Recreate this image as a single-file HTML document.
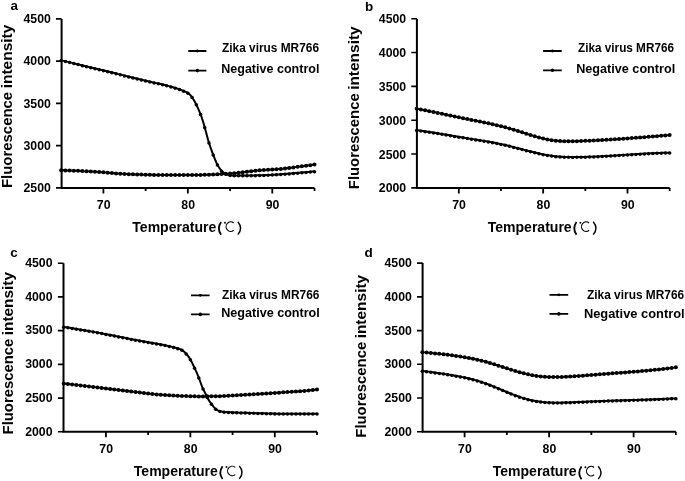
<!DOCTYPE html><html><head><meta charset="utf-8"><style>html,body{margin:0;padding:0;background:#fff;}svg{display:block;filter:blur(0.35px)}</style></head><body>

<svg width="685" height="481" viewBox="0 0 685 481">
<style>
text{font-family:"Liberation Sans", sans-serif;fill:#000}
.tl{font-size:12.3px;font-weight:bold}
.let{font-size:13.5px;font-weight:bold}
.yt{font-size:14px;font-weight:bold}
.xt{font-size:14px;font-weight:bold}
.cc{font-size:13px;font-weight:normal}
.lg{font-size:12px;font-weight:bold}
</style>
<rect width="685" height="481" fill="#fff"/>
<g><path d="M61.6 18.9V187.9H314.52" fill="none" stroke="#000" stroke-width="2"/><path d="M56 18.9H61.6M56 61.15H61.6M56 103.4H61.6M56 145.65H61.6M56 187.9H61.6" stroke="#000" stroke-width="1.6"/><path d="M103.4 187.9V193.4M187.85 187.9V193.4M272.3 187.9V193.4M145.62 187.9V191.1M230.08 187.9V191.1M314.52 187.9V191.1" stroke="#000" stroke-width="1.8"/><text x="50.9" y="23.2" text-anchor="end" class="tl">4500</text><text x="50.9" y="65.45" text-anchor="end" class="tl">4000</text><text x="50.9" y="107.7" text-anchor="end" class="tl">3500</text><text x="50.9" y="149.95" text-anchor="end" class="tl">3000</text><text x="50.9" y="192.2" text-anchor="end" class="tl">2500</text><text x="103.7" y="209" text-anchor="middle" class="tl">70</text><text x="188.15" y="209" text-anchor="middle" class="tl">80</text><text x="272.6" y="209" text-anchor="middle" class="tl">90</text><text x="10.5" y="10.1" class="let">a</text><text transform="translate(12.3 188) rotate(-90)" x="0" y="0" class="yt" textLength="96.16" lengthAdjust="spacingAndGlyphs">Fluorescence</text><text transform="translate(12.3 88.37) rotate(-90)" x="0" y="0" class="yt" textLength="63.77" lengthAdjust="spacingAndGlyphs">intensity</text><text x="132.3" y="231.8" class="xt" textLength="84" lengthAdjust="spacingAndGlyphs">Temperature</text><path d="M221.1 221.9Q216.5 228.35 221.1 234.8" fill="none" stroke="#000" stroke-width="1.8"/><path d="M237.8 221.7Q243.4 228.15 237.8 234.6" fill="none" stroke="#000" stroke-width="1.4"/><circle cx="225" cy="222.7" r="0.95"/><path d="M233.66 223.01A4.6 4.75 0 1 0 233.66 230.29" fill="none" stroke="#000" stroke-width="1.1"/><path d="M188.3 51H206.4M188.3 70.6H206.4" stroke="#000" stroke-width="1.8"/><circle cx="197.35" cy="51" r="1.4"/><circle cx="197.35" cy="70.6" r="1.8"/><text x="222" y="52" class="lg" textLength="97" lengthAdjust="spacingAndGlyphs">Zika virus MR766</text><text x="221.2" y="72.7" class="lg" textLength="98.3" lengthAdjust="spacingAndGlyphs">Negative control</text><path d="M61.6 60.4 62.65 60.65 63.71 60.9 64.76 61.15 65.82 61.4 66.87 61.65 67.92 61.9 68.98 62.15 70.03 62.4 71.08 62.65 72.14 62.9 73.19 63.16 74.25 63.41 75.3 63.66 76.35 63.91 77.41 64.16 78.46 64.41 79.52 64.67 80.57 64.92 81.62 65.17 82.68 65.42 83.73 65.68 84.78 65.93 85.84 66.18 86.89 66.44 87.95 66.69 89 66.94 90.05 67.2 91.11 67.45 92.16 67.71 93.22 67.96 94.27 68.21 95.32 68.47 96.38 68.72 97.43 68.98 98.48 69.23 99.54 69.49 100.59 69.74 101.65 70 102.7 70.25 103.75 70.51 104.81 70.77 105.86 71.02 106.92 71.28 107.97 71.54 109.02 71.79 110.08 72.05 111.13 72.31 112.19 72.56 113.24 72.82 114.29 73.08 115.35 73.33 116.4 73.59 117.45 73.85 118.51 74.11 119.56 74.37 120.62 74.62 121.67 74.88 122.72 75.14 123.78 75.4 124.83 75.66 125.89 75.92 126.94 76.18 127.99 76.44 129.05 76.7 130.1 76.96 131.15 77.22 132.21 77.48 133.26 77.74 134.32 78 135.37 78.26 136.42 78.52 137.48 78.78 138.53 79.04 139.59 79.3 140.64 79.56 141.69 79.81 142.75 80.06 143.8 80.31 144.85 80.56 145.91 80.8 146.96 81.04 148.02 81.28 149.07 81.51 150.12 81.74 151.18 81.98 152.23 82.21 153.29 82.44 154.34 82.67 155.39 82.91 156.45 83.14 157.5 83.37 158.55 83.61 159.61 83.85 160.66 84.09 161.72 84.33 162.77 84.58 163.82 84.83 164.88 85.08 165.93 85.34 166.99 85.61 168.04 85.87 169.09 86.15 170.15 86.43 171.2 86.71 172.25 87.01 173.31 87.31 174.36 87.61 175.42 87.93 176.47 88.25 177.52 88.58 178.58 88.93 179.63 89.28 180.69 89.65 181.74 90.09 182.79 90.56 183.85 91.04 184.9 91.49 185.95 91.9 187.01 92.36 188.06 92.97 189.12 93.84 190.17 94.94 191.22 96.18 192.28 97.57 193.33 99.19 194.39 100.99 195.44 102.9 196.49 104.97 197.55 107.27 198.6 109.67 199.65 112.09 200.71 114.64 201.76 117.52 202.82 120.83 203.87 124.38 204.92 128.07 205.98 132.04 207.03 136.06 208.09 139.89 209.14 143.3 210.19 146.47 211.25 149.47 212.3 152.34 213.35 155.1 214.41 157.85 215.46 160.5 216.52 162.93 217.57 165 218.62 166.82 219.68 168.45 220.73 169.86 221.79 171.02 222.84 172.01 223.89 172.83 224.95 173.51 226 174.09 227.06 174.52 228.11 174.86 229.16 175.15 230.22 175.3 231.27 175.34 232.32 175.38 233.38 175.41 234.43 175.44 235.49 175.46 236.54 175.48 237.59 175.49 238.65 175.5 239.7 175.5 240.76 175.5 241.81 175.5 242.86 175.49 243.92 175.49 244.97 175.48 246.02 175.48 247.08 175.47 248.13 175.46 249.19 175.45 250.24 175.44 251.29 175.43 252.35 175.41 253.4 175.4 254.46 175.39 255.51 175.37 256.56 175.35 257.62 175.34 258.67 175.32 259.72 175.3 260.78 175.29 261.83 175.26 262.89 175.23 263.94 175.2 264.99 175.16 266.05 175.11 267.1 175.06 268.16 175.01 269.21 174.96 270.26 174.9 271.32 174.84 272.37 174.78 273.42 174.71 274.48 174.65 275.53 174.58 276.59 174.52 277.64 174.45 278.69 174.38 279.75 174.32 280.8 174.25 281.86 174.18 282.91 174.1 283.96 174.02 285.02 173.94 286.07 173.86 287.12 173.77 288.18 173.68 289.23 173.59 290.29 173.5 291.34 173.41 292.39 173.32 293.45 173.23 294.5 173.14 295.56 173.05 296.61 172.97 297.66 172.88 298.72 172.79 299.77 172.7 300.82 172.61 301.88 172.52 302.93 172.43 303.99 172.34 305.04 172.25 306.09 172.16 307.15 172.06 308.2 171.97 309.26 171.88 310.31 171.78 311.36 171.69 312.42 171.6 313.47 171.5 314.52 171.41" fill="none" stroke="#000" stroke-width="2" stroke-linejoin="round"/><g><circle cx="61.18" cy="60.7" r="1.75"/><circle cx="65.4" cy="61.6" r="1.75"/><circle cx="69.62" cy="62.6" r="1.75"/><circle cx="73.84" cy="63.61" r="1.75"/><circle cx="78.06" cy="64.62" r="1.75"/><circle cx="82.29" cy="65.63" r="1.75"/><circle cx="86.51" cy="66.64" r="1.75"/><circle cx="90.73" cy="67.66" r="1.75"/><circle cx="94.96" cy="68.68" r="1.75"/><circle cx="99.18" cy="69.7" r="1.75"/><circle cx="103.4" cy="70.72" r="1.75"/><circle cx="107.62" cy="71.75" r="1.75"/><circle cx="111.84" cy="72.78" r="1.75"/><circle cx="116.07" cy="73.81" r="1.75"/><circle cx="120.29" cy="74.84" r="1.75"/><circle cx="124.51" cy="75.88" r="1.75"/><circle cx="128.74" cy="76.92" r="1.75"/><circle cx="132.96" cy="77.96" r="1.75"/><circle cx="137.18" cy="79" r="1.75"/><circle cx="141.4" cy="80.04" r="1.75"/><circle cx="145.62" cy="81.03" r="1.75"/><circle cx="149.85" cy="81.98" r="1.75"/><circle cx="154.07" cy="82.91" r="1.75"/><circle cx="158.29" cy="83.85" r="1.75"/><circle cx="162.52" cy="84.82" r="1.75"/><circle cx="166.74" cy="85.84" r="1.75"/><circle cx="170.96" cy="86.95" r="1.75"/><circle cx="175.18" cy="88.16" r="1.75"/><circle cx="179.41" cy="89.5" r="1.75"/><circle cx="183.63" cy="91.25" r="1.75"/><circle cx="187.85" cy="93.13" r="1.75"/><circle cx="192.07" cy="97.58" r="1.75"/><circle cx="196.3" cy="104.86" r="1.75"/><circle cx="200.52" cy="114.46" r="1.75"/><circle cx="204.74" cy="127.7" r="1.75"/><circle cx="208.96" cy="143.05" r="1.75"/><circle cx="213.19" cy="154.96" r="1.75"/><circle cx="217.41" cy="165" r="1.75"/><circle cx="221.63" cy="171.16" r="1.75"/><circle cx="225.85" cy="174.31" r="1.75"/><circle cx="230.08" cy="175.59" r="1.75"/><circle cx="234.3" cy="175.73" r="1.75"/><circle cx="238.52" cy="175.8" r="1.75"/><circle cx="242.74" cy="175.8" r="1.75"/><circle cx="246.97" cy="175.77" r="1.75"/><circle cx="251.19" cy="175.73" r="1.75"/><circle cx="255.41" cy="175.67" r="1.75"/><circle cx="259.63" cy="175.61" r="1.75"/><circle cx="263.86" cy="175.5" r="1.75"/><circle cx="268.08" cy="175.32" r="1.75"/><circle cx="272.3" cy="175.08" r="1.75"/><circle cx="276.52" cy="174.82" r="1.75"/><circle cx="280.75" cy="174.55" r="1.75"/><circle cx="284.97" cy="174.25" r="1.75"/><circle cx="289.19" cy="173.9" r="1.75"/><circle cx="293.41" cy="173.53" r="1.75"/><circle cx="297.63" cy="173.18" r="1.75"/><circle cx="301.86" cy="172.82" r="1.75"/><circle cx="306.08" cy="172.46" r="1.75"/><circle cx="310.3" cy="172.09" r="1.75"/><circle cx="314.52" cy="171.71" r="1.75"/></g><path d="M61.6 170.3 62.65 170.32 63.71 170.35 64.76 170.38 65.82 170.41 66.87 170.44 67.92 170.47 68.98 170.51 70.03 170.54 71.08 170.58 72.14 170.62 73.19 170.66 74.25 170.7 75.3 170.75 76.35 170.79 77.41 170.84 78.46 170.88 79.52 170.93 80.57 170.98 81.62 171.03 82.68 171.08 83.73 171.14 84.78 171.19 85.84 171.25 86.89 171.3 87.95 171.36 89 171.41 90.05 171.47 91.11 171.53 92.16 171.59 93.22 171.65 94.27 171.71 95.32 171.77 96.38 171.83 97.43 171.89 98.48 171.97 99.54 172.04 100.59 172.12 101.65 172.21 102.7 172.29 103.75 172.38 104.81 172.47 105.86 172.56 106.92 172.66 107.97 172.75 109.02 172.84 110.08 172.93 111.13 173.02 112.19 173.1 113.24 173.18 114.29 173.26 115.35 173.34 116.4 173.41 117.45 173.47 118.51 173.54 119.56 173.61 120.62 173.68 121.67 173.75 122.72 173.82 123.78 173.88 124.83 173.95 125.89 174.01 126.94 174.07 127.99 174.13 129.05 174.19 130.1 174.24 131.15 174.29 132.21 174.34 133.26 174.39 134.32 174.43 135.37 174.46 136.42 174.49 137.48 174.52 138.53 174.55 139.59 174.57 140.64 174.6 141.69 174.63 142.75 174.65 143.8 174.68 144.85 174.7 145.91 174.73 146.96 174.75 148.02 174.77 149.07 174.79 150.12 174.81 151.18 174.83 152.23 174.85 153.29 174.87 154.34 174.89 155.39 174.9 156.45 174.92 157.5 174.93 158.55 174.95 159.61 174.96 160.66 174.97 161.72 174.98 162.77 174.98 163.82 174.99 164.88 175 165.93 175 166.99 175 168.04 175 169.09 175 170.15 175 171.2 175 172.25 175 173.31 175 174.36 175 175.42 175 176.47 175 177.52 175 178.58 175 179.63 175 180.69 175 181.74 175 182.79 175 183.85 175 184.9 175 185.95 175 187.01 175 188.06 175 189.12 175 190.17 175 191.22 175 192.28 175 193.33 175 194.39 175 195.44 175 196.49 174.99 197.55 174.98 198.6 174.97 199.65 174.95 200.71 174.93 201.76 174.9 202.82 174.87 203.87 174.84 204.92 174.8 205.98 174.77 207.03 174.73 208.09 174.68 209.14 174.64 210.19 174.6 211.25 174.56 212.3 174.51 213.35 174.47 214.41 174.42 215.46 174.38 216.52 174.34 217.57 174.29 218.62 174.24 219.68 174.18 220.73 174.12 221.79 174.06 222.84 174 223.89 173.94 224.95 173.87 226 173.8 227.06 173.73 228.11 173.66 229.16 173.58 230.22 173.51 231.27 173.43 232.32 173.34 233.38 173.24 234.43 173.14 235.49 173.04 236.54 172.93 237.59 172.82 238.65 172.7 239.7 172.58 240.76 172.46 241.81 172.33 242.86 172.2 243.92 172.07 244.97 171.94 246.02 171.81 247.08 171.68 248.13 171.56 249.19 171.43 250.24 171.3 251.29 171.18 252.35 171.06 253.4 170.94 254.46 170.82 255.51 170.71 256.56 170.61 257.62 170.51 258.67 170.41 259.72 170.32 260.78 170.24 261.83 170.16 262.89 170.09 263.94 170.02 264.99 169.95 266.05 169.89 267.1 169.83 268.16 169.77 269.21 169.71 270.26 169.65 271.32 169.59 272.37 169.53 273.42 169.47 274.48 169.4 275.53 169.33 276.59 169.26 277.64 169.19 278.69 169.11 279.75 169.02 280.8 168.93 281.86 168.83 282.91 168.72 283.96 168.6 285.02 168.48 286.07 168.36 287.12 168.23 288.18 168.09 289.23 167.96 290.29 167.82 291.34 167.68 292.39 167.54 293.45 167.4 294.5 167.26 295.56 167.13 296.61 166.99 297.66 166.86 298.72 166.72 299.77 166.58 300.82 166.44 301.88 166.3 302.93 166.15 303.99 166.01 305.04 165.87 306.09 165.72 307.15 165.57 308.2 165.42 309.26 165.28 310.31 165.12 311.36 164.97 312.42 164.82 313.47 164.67 314.52 164.51" fill="none" stroke="#000" stroke-width="2" stroke-linejoin="round"/><g><circle cx="61.18" cy="170.3" r="2.0"/><circle cx="65.4" cy="170.4" r="2.0"/><circle cx="69.62" cy="170.53" r="2.0"/><circle cx="73.84" cy="170.69" r="2.0"/><circle cx="78.06" cy="170.87" r="2.0"/><circle cx="82.29" cy="171.07" r="2.0"/><circle cx="86.51" cy="171.28" r="2.0"/><circle cx="90.73" cy="171.51" r="2.0"/><circle cx="94.96" cy="171.75" r="2.0"/><circle cx="99.18" cy="172.02" r="2.0"/><circle cx="103.4" cy="172.35" r="2.0"/><circle cx="107.62" cy="172.72" r="2.0"/><circle cx="111.84" cy="173.07" r="2.0"/><circle cx="116.07" cy="173.39" r="2.0"/><circle cx="120.29" cy="173.66" r="2.0"/><circle cx="124.51" cy="173.93" r="2.0"/><circle cx="128.74" cy="174.17" r="2.0"/><circle cx="132.96" cy="174.37" r="2.0"/><circle cx="137.18" cy="174.51" r="2.0"/><circle cx="141.4" cy="174.62" r="2.0"/><circle cx="145.62" cy="174.72" r="2.0"/><circle cx="149.85" cy="174.81" r="2.0"/><circle cx="154.07" cy="174.88" r="2.0"/><circle cx="158.29" cy="174.94" r="2.0"/><circle cx="162.52" cy="174.98" r="2.0"/><circle cx="166.74" cy="175" r="2.0"/><circle cx="170.96" cy="175" r="2.0"/><circle cx="175.18" cy="175" r="2.0"/><circle cx="179.41" cy="175" r="2.0"/><circle cx="183.63" cy="175" r="2.0"/><circle cx="187.85" cy="175" r="2.0"/><circle cx="192.07" cy="175" r="2.0"/><circle cx="196.3" cy="175" r="2.0"/><circle cx="200.52" cy="174.93" r="2.0"/><circle cx="204.74" cy="174.81" r="2.0"/><circle cx="208.96" cy="174.65" r="2.0"/><circle cx="213.19" cy="174.47" r="2.0"/><circle cx="217.41" cy="174.29" r="2.0"/><circle cx="221.63" cy="174.07" r="2.0"/><circle cx="225.85" cy="173.81" r="2.0"/><circle cx="230.08" cy="173.52" r="2.0"/><circle cx="234.3" cy="173.16" r="2.0"/><circle cx="238.52" cy="172.71" r="2.0"/><circle cx="242.74" cy="172.22" r="2.0"/><circle cx="246.97" cy="171.7" r="2.0"/><circle cx="251.19" cy="171.19" r="2.0"/><circle cx="255.41" cy="170.72" r="2.0"/><circle cx="259.63" cy="170.33" r="2.0"/><circle cx="263.86" cy="170.02" r="2.0"/><circle cx="268.08" cy="169.77" r="2.0"/><circle cx="272.3" cy="169.53" r="2.0"/><circle cx="276.52" cy="169.27" r="2.0"/><circle cx="280.75" cy="168.93" r="2.0"/><circle cx="284.97" cy="168.49" r="2.0"/><circle cx="289.19" cy="167.96" r="2.0"/><circle cx="293.41" cy="167.41" r="2.0"/><circle cx="297.63" cy="166.86" r="2.0"/><circle cx="301.86" cy="166.3" r="2.0"/><circle cx="306.08" cy="165.72" r="2.0"/><circle cx="310.3" cy="165.13" r="2.0"/><circle cx="314.52" cy="164.51" r="2.0"/></g></g>
<g><path d="M416.9 18.7V187.9H669.67" fill="none" stroke="#000" stroke-width="2"/><path d="M411.3 18.7H416.9M411.3 52.54H416.9M411.3 86.38H416.9M411.3 120.22H416.9M411.3 154.06H416.9M411.3 187.9H416.9" stroke="#000" stroke-width="1.6"/><path d="M458.8 187.9V193.4M543.15 187.9V193.4M627.5 187.9V193.4M500.98 187.9V191.1M585.33 187.9V191.1M669.67 187.9V191.1" stroke="#000" stroke-width="1.8"/><text x="406.2" y="23.2" text-anchor="end" class="tl">4500</text><text x="406.2" y="57.04" text-anchor="end" class="tl">4000</text><text x="406.2" y="90.88" text-anchor="end" class="tl">3500</text><text x="406.2" y="124.72" text-anchor="end" class="tl">3000</text><text x="406.2" y="158.56" text-anchor="end" class="tl">2500</text><text x="406.2" y="192.4" text-anchor="end" class="tl">2000</text><text x="459.1" y="209.2" text-anchor="middle" class="tl">70</text><text x="543.45" y="209.2" text-anchor="middle" class="tl">80</text><text x="627.8" y="209.2" text-anchor="middle" class="tl">90</text><text x="364.9" y="10.9" class="let">b</text><text transform="translate(358.5 189.2) rotate(-90)" x="0" y="0" class="yt" textLength="95.87" lengthAdjust="spacingAndGlyphs">Fluorescence</text><text transform="translate(358.5 89.87) rotate(-90)" x="0" y="0" class="yt" textLength="63.57" lengthAdjust="spacingAndGlyphs">intensity</text><text x="487.7" y="231.8" class="xt" textLength="84" lengthAdjust="spacingAndGlyphs">Temperature</text><path d="M576.5 221.9Q571.9 228.35 576.5 234.8" fill="none" stroke="#000" stroke-width="1.8"/><path d="M593.2 221.7Q598.8 228.15 593.2 234.6" fill="none" stroke="#000" stroke-width="1.4"/><circle cx="580.4" cy="222.7" r="0.95"/><path d="M589.06 223.01A4.6 4.75 0 1 0 589.06 230.29" fill="none" stroke="#000" stroke-width="1.1"/><path d="M543.1 51H561.7M543.1 70.3H561.7" stroke="#000" stroke-width="1.8"/><circle cx="552.4" cy="51" r="1.4"/><circle cx="552.4" cy="70.3" r="1.8"/><text x="578" y="52" class="lg" textLength="96" lengthAdjust="spacingAndGlyphs">Zika virus MR766</text><text x="576.2" y="73" class="lg" textLength="99" lengthAdjust="spacingAndGlyphs">Negative control</text><path d="M416.9 108.77 417.95 108.96 419.01 109.16 420.06 109.35 421.11 109.55 422.17 109.75 423.22 109.95 424.27 110.16 425.33 110.36 426.38 110.57 427.43 110.78 428.49 110.99 429.54 111.2 430.59 111.41 431.65 111.63 432.7 111.84 433.75 112.06 434.8 112.28 435.86 112.5 436.91 112.72 437.96 112.94 439.02 113.16 440.07 113.38 441.12 113.6 442.18 113.83 443.23 114.05 444.28 114.27 445.34 114.5 446.39 114.72 447.44 114.95 448.5 115.17 449.55 115.4 450.6 115.62 451.66 115.85 452.71 116.07 453.76 116.29 454.82 116.52 455.87 116.74 456.92 116.96 457.98 117.18 459.03 117.41 460.08 117.63 461.14 117.85 462.19 118.06 463.24 118.28 464.3 118.5 465.35 118.71 466.4 118.93 467.45 119.14 468.51 119.35 469.56 119.56 470.61 119.77 471.67 119.98 472.72 120.18 473.77 120.39 474.83 120.59 475.88 120.8 476.93 121 477.99 121.21 479.04 121.41 480.09 121.62 481.15 121.82 482.2 122.03 483.25 122.24 484.31 122.45 485.36 122.66 486.41 122.87 487.47 123.09 488.52 123.31 489.57 123.53 490.63 123.75 491.68 123.98 492.73 124.21 493.79 124.45 494.84 124.69 495.89 124.93 496.95 125.18 498 125.43 499.05 125.69 500.11 125.95 501.16 126.22 502.21 126.49 503.26 126.76 504.32 127.04 505.37 127.32 506.42 127.61 507.48 127.9 508.53 128.19 509.58 128.49 510.64 128.8 511.69 129.1 512.74 129.41 513.8 129.73 514.85 130.05 515.9 130.37 516.96 130.69 518.01 131.02 519.06 131.35 520.12 131.69 521.17 132.02 522.22 132.36 523.28 132.69 524.33 133.03 525.38 133.36 526.44 133.7 527.49 134.03 528.54 134.36 529.6 134.69 530.65 135.01 531.7 135.33 532.76 135.65 533.81 135.97 534.86 136.27 535.91 136.58 536.97 136.88 538.02 137.17 539.07 137.45 540.13 137.73 541.18 138 542.23 138.26 543.29 138.52 544.34 138.76 545.39 139 546.45 139.22 547.5 139.44 548.55 139.64 549.61 139.84 550.66 140.02 551.71 140.19 552.77 140.35 553.82 140.49 554.87 140.62 555.93 140.74 556.98 140.84 558.03 140.94 559.09 141.01 560.14 141.08 561.19 141.14 562.25 141.18 563.3 141.22 564.35 141.25 565.41 141.27 566.46 141.28 567.51 141.29 568.56 141.29 569.62 141.28 570.67 141.27 571.72 141.26 572.78 141.24 573.83 141.21 574.88 141.19 575.94 141.17 576.99 141.14 578.04 141.11 579.1 141.08 580.15 141.05 581.2 141.01 582.26 140.98 583.31 140.94 584.36 140.91 585.42 140.87 586.47 140.83 587.52 140.79 588.58 140.74 589.63 140.7 590.68 140.65 591.74 140.61 592.79 140.56 593.84 140.51 594.9 140.46 595.95 140.41 597 140.36 598.06 140.3 599.11 140.25 600.16 140.19 601.22 140.14 602.27 140.08 603.32 140.02 604.37 139.96 605.43 139.9 606.48 139.84 607.53 139.77 608.59 139.71 609.64 139.65 610.69 139.58 611.75 139.51 612.8 139.45 613.85 139.38 614.91 139.31 615.96 139.24 617.01 139.17 618.07 139.1 619.12 139.03 620.17 138.95 621.23 138.88 622.28 138.81 623.33 138.73 624.39 138.66 625.44 138.58 626.49 138.5 627.55 138.43 628.6 138.35 629.65 138.27 630.71 138.19 631.76 138.11 632.81 138.03 633.87 137.95 634.92 137.87 635.97 137.79 637.02 137.71 638.08 137.63 639.13 137.55 640.18 137.47 641.24 137.38 642.29 137.3 643.34 137.22 644.4 137.14 645.45 137.05 646.5 136.97 647.56 136.88 648.61 136.8 649.66 136.72 650.72 136.63 651.77 136.55 652.82 136.46 653.88 136.38 654.93 136.29 655.98 136.21 657.04 136.12 658.09 136.04 659.14 135.96 660.2 135.87 661.25 135.79 662.3 135.7 663.36 135.62 664.41 135.53 665.46 135.45 666.52 135.37 667.57 135.28 668.62 135.2 669.67 135.12" fill="none" stroke="#000" stroke-width="2" stroke-linejoin="round"/><g><circle cx="416.62" cy="108.77" r="2.0"/><circle cx="420.84" cy="109.5" r="2.0"/><circle cx="425.06" cy="110.31" r="2.0"/><circle cx="429.28" cy="111.15" r="2.0"/><circle cx="433.5" cy="112.01" r="2.0"/><circle cx="437.71" cy="112.88" r="2.0"/><circle cx="441.93" cy="113.77" r="2.0"/><circle cx="446.15" cy="114.67" r="2.0"/><circle cx="450.37" cy="115.57" r="2.0"/><circle cx="454.58" cy="116.47" r="2.0"/><circle cx="458.8" cy="117.36" r="2.0"/><circle cx="463.02" cy="118.24" r="2.0"/><circle cx="467.24" cy="119.1" r="2.0"/><circle cx="471.45" cy="119.94" r="2.0"/><circle cx="475.67" cy="120.76" r="2.0"/><circle cx="479.89" cy="121.58" r="2.0"/><circle cx="484.11" cy="122.41" r="2.0"/><circle cx="488.32" cy="123.27" r="2.0"/><circle cx="492.54" cy="124.17" r="2.0"/><circle cx="496.76" cy="125.14" r="2.0"/><circle cx="500.98" cy="126.17" r="2.0"/><circle cx="505.19" cy="127.27" r="2.0"/><circle cx="509.41" cy="128.44" r="2.0"/><circle cx="513.63" cy="129.68" r="2.0"/><circle cx="517.85" cy="130.97" r="2.0"/><circle cx="522.06" cy="132.31" r="2.0"/><circle cx="526.28" cy="133.65" r="2.0"/><circle cx="530.5" cy="134.97" r="2.0"/><circle cx="534.72" cy="136.23" r="2.0"/><circle cx="538.93" cy="137.41" r="2.0"/><circle cx="543.15" cy="138.48" r="2.0"/><circle cx="547.37" cy="139.41" r="2.0"/><circle cx="551.59" cy="140.17" r="2.0"/><circle cx="555.8" cy="140.73" r="2.0"/><circle cx="560.02" cy="141.07" r="2.0"/><circle cx="564.24" cy="141.25" r="2.0"/><circle cx="568.46" cy="141.29" r="2.0"/><circle cx="572.67" cy="141.24" r="2.0"/><circle cx="576.89" cy="141.14" r="2.0"/><circle cx="581.11" cy="141.02" r="2.0"/><circle cx="585.33" cy="140.87" r="2.0"/><circle cx="589.54" cy="140.7" r="2.0"/><circle cx="593.76" cy="140.51" r="2.0"/><circle cx="597.98" cy="140.31" r="2.0"/><circle cx="602.19" cy="140.08" r="2.0"/><circle cx="606.41" cy="139.84" r="2.0"/><circle cx="610.63" cy="139.58" r="2.0"/><circle cx="614.85" cy="139.31" r="2.0"/><circle cx="619.07" cy="139.03" r="2.0"/><circle cx="623.28" cy="138.74" r="2.0"/><circle cx="627.5" cy="138.43" r="2.0"/><circle cx="631.72" cy="138.12" r="2.0"/><circle cx="635.93" cy="137.8" r="2.0"/><circle cx="640.15" cy="137.47" r="2.0"/><circle cx="644.37" cy="137.14" r="2.0"/><circle cx="648.59" cy="136.8" r="2.0"/><circle cx="652.8" cy="136.46" r="2.0"/><circle cx="657.02" cy="136.13" r="2.0"/><circle cx="661.24" cy="135.79" r="2.0"/><circle cx="665.46" cy="135.45" r="2.0"/><circle cx="669.67" cy="135.12" r="2.0"/></g><path d="M416.9 130.22 417.95 130.35 419.01 130.49 420.06 130.64 421.11 130.78 422.17 130.93 423.22 131.08 424.27 131.23 425.33 131.38 426.38 131.54 427.43 131.7 428.49 131.85 429.54 132.01 430.59 132.18 431.65 132.34 432.7 132.51 433.75 132.67 434.8 132.84 435.86 133.01 436.91 133.18 437.96 133.35 439.02 133.52 440.07 133.7 441.12 133.87 442.18 134.05 443.23 134.22 444.28 134.4 445.34 134.57 446.39 134.75 447.44 134.93 448.5 135.11 449.55 135.29 450.6 135.46 451.66 135.64 452.71 135.82 453.76 136 454.82 136.18 455.87 136.36 456.92 136.54 457.98 136.71 459.03 136.89 460.08 137.07 461.14 137.24 462.19 137.42 463.24 137.6 464.3 137.77 465.35 137.94 466.4 138.12 467.45 138.29 468.51 138.46 469.56 138.63 470.61 138.79 471.67 138.96 472.72 139.13 473.77 139.29 474.83 139.46 475.88 139.62 476.93 139.79 477.99 139.95 479.04 140.12 480.09 140.28 481.15 140.45 482.2 140.62 483.25 140.79 484.31 140.96 485.36 141.13 486.41 141.31 487.47 141.49 488.52 141.67 489.57 141.85 490.63 142.04 491.68 142.23 492.73 142.42 493.79 142.62 494.84 142.82 495.89 143.03 496.95 143.24 498 143.46 499.05 143.68 500.11 143.9 501.16 144.13 502.21 144.36 503.26 144.59 504.32 144.83 505.37 145.07 506.42 145.32 507.48 145.57 508.53 145.82 509.58 146.07 510.64 146.33 511.69 146.59 512.74 146.85 513.8 147.12 514.85 147.39 515.9 147.66 516.96 147.94 518.01 148.21 519.06 148.49 520.12 148.77 521.17 149.04 522.22 149.32 523.28 149.6 524.33 149.88 525.38 150.16 526.44 150.43 527.49 150.71 528.54 150.98 529.6 151.25 530.65 151.52 531.7 151.78 532.76 152.04 533.81 152.3 534.86 152.55 535.91 152.8 536.97 153.05 538.02 153.29 539.07 153.52 540.13 153.75 541.18 153.98 542.23 154.19 543.29 154.41 544.34 154.61 545.39 154.81 546.45 155 547.5 155.18 548.55 155.36 549.61 155.53 550.66 155.69 551.71 155.84 552.77 155.98 553.82 156.11 554.87 156.23 555.93 156.34 556.98 156.45 558.03 156.54 559.09 156.62 560.14 156.7 561.19 156.77 562.25 156.83 563.3 156.88 564.35 156.92 565.41 156.96 566.46 156.99 567.51 157.02 568.56 157.04 569.62 157.06 570.67 157.07 571.72 157.08 572.78 157.08 573.83 157.08 574.88 157.08 575.94 157.07 576.99 157.07 578.04 157.05 579.1 157.04 580.15 157.03 581.2 157.01 582.26 156.99 583.31 156.96 584.36 156.94 585.42 156.91 586.47 156.88 587.52 156.85 588.58 156.82 589.63 156.78 590.68 156.75 591.74 156.71 592.79 156.67 593.84 156.63 594.9 156.58 595.95 156.54 597 156.49 598.06 156.44 599.11 156.39 600.16 156.34 601.22 156.29 602.27 156.23 603.32 156.18 604.37 156.12 605.43 156.07 606.48 156.01 607.53 155.95 608.59 155.89 609.64 155.83 610.69 155.77 611.75 155.7 612.8 155.64 613.85 155.58 614.91 155.51 615.96 155.45 617.01 155.38 618.07 155.31 619.12 155.25 620.17 155.18 621.23 155.11 622.28 155.05 623.33 154.98 624.39 154.91 625.44 154.84 626.49 154.78 627.55 154.71 628.6 154.64 629.65 154.57 630.71 154.51 631.76 154.44 632.81 154.37 633.87 154.31 634.92 154.24 635.97 154.18 637.02 154.11 638.08 154.05 639.13 153.99 640.18 153.92 641.24 153.86 642.29 153.8 643.34 153.74 644.4 153.68 645.45 153.62 646.5 153.57 647.56 153.51 648.61 153.46 649.66 153.4 650.72 153.35 651.77 153.3 652.82 153.25 653.88 153.2 654.93 153.15 655.98 153.11 657.04 153.07 658.09 153.02 659.14 152.98 660.2 152.95 661.25 152.91 662.3 152.87 663.36 152.84 664.41 152.81 665.46 152.78 666.52 152.76 667.57 152.73 668.62 152.71 669.67 152.69" fill="none" stroke="#000" stroke-width="2" stroke-linejoin="round"/><g><circle cx="416.62" cy="130.52" r="1.75"/><circle cx="420.84" cy="131.04" r="1.75"/><circle cx="425.06" cy="131.64" r="1.75"/><circle cx="429.28" cy="132.27" r="1.75"/><circle cx="433.5" cy="132.93" r="1.75"/><circle cx="437.71" cy="133.61" r="1.75"/><circle cx="441.93" cy="134.3" r="1.75"/><circle cx="446.15" cy="135.01" r="1.75"/><circle cx="450.37" cy="135.72" r="1.75"/><circle cx="454.58" cy="136.44" r="1.75"/><circle cx="458.8" cy="137.15" r="1.75"/><circle cx="463.02" cy="137.86" r="1.75"/><circle cx="467.24" cy="138.55" r="1.75"/><circle cx="471.45" cy="139.23" r="1.75"/><circle cx="475.67" cy="139.89" r="1.75"/><circle cx="479.89" cy="140.55" r="1.75"/><circle cx="484.11" cy="141.23" r="1.75"/><circle cx="488.32" cy="141.93" r="1.75"/><circle cx="492.54" cy="142.69" r="1.75"/><circle cx="496.76" cy="143.5" r="1.75"/><circle cx="500.98" cy="144.39" r="1.75"/><circle cx="505.19" cy="145.33" r="1.75"/><circle cx="509.41" cy="146.33" r="1.75"/><circle cx="513.63" cy="147.38" r="1.75"/><circle cx="517.85" cy="148.47" r="1.75"/><circle cx="522.06" cy="149.58" r="1.75"/><circle cx="526.28" cy="150.69" r="1.75"/><circle cx="530.5" cy="151.78" r="1.75"/><circle cx="534.72" cy="152.82" r="1.75"/><circle cx="538.93" cy="153.79" r="1.75"/><circle cx="543.15" cy="154.68" r="1.75"/><circle cx="547.37" cy="155.46" r="1.75"/><circle cx="551.59" cy="156.12" r="1.75"/><circle cx="555.8" cy="156.63" r="1.75"/><circle cx="560.02" cy="156.99" r="1.75"/><circle cx="564.24" cy="157.22" r="1.75"/><circle cx="568.46" cy="157.34" r="1.75"/><circle cx="572.67" cy="157.38" r="1.75"/><circle cx="576.89" cy="157.37" r="1.75"/><circle cx="581.11" cy="157.31" r="1.75"/><circle cx="585.33" cy="157.22" r="1.75"/><circle cx="589.54" cy="157.09" r="1.75"/><circle cx="593.76" cy="156.93" r="1.75"/><circle cx="597.98" cy="156.75" r="1.75"/><circle cx="602.19" cy="156.54" r="1.75"/><circle cx="606.41" cy="156.31" r="1.75"/><circle cx="610.63" cy="156.07" r="1.75"/><circle cx="614.85" cy="155.81" r="1.75"/><circle cx="619.07" cy="155.55" r="1.75"/><circle cx="623.28" cy="155.28" r="1.75"/><circle cx="627.5" cy="155.01" r="1.75"/><circle cx="631.72" cy="154.74" r="1.75"/><circle cx="635.93" cy="154.48" r="1.75"/><circle cx="640.15" cy="154.22" r="1.75"/><circle cx="644.37" cy="153.98" r="1.75"/><circle cx="648.59" cy="153.76" r="1.75"/><circle cx="652.8" cy="153.55" r="1.75"/><circle cx="657.02" cy="153.37" r="1.75"/><circle cx="661.24" cy="153.21" r="1.75"/><circle cx="665.46" cy="153.08" r="1.75"/><circle cx="669.67" cy="152.99" r="1.75"/></g></g>
<g><path d="M63.5 263.2V431.8H317.02" fill="none" stroke="#000" stroke-width="2"/><path d="M57.9 263.2H63.5M57.9 296.92H63.5M57.9 330.64H63.5M57.9 364.36H63.5M57.9 398.08H63.5M57.9 431.8H63.5" stroke="#000" stroke-width="1.6"/><path d="M105.9 431.8V437.3M190.35 431.8V437.3M274.8 431.8V437.3M148.12 431.8V435M232.58 431.8V435M317.02 431.8V435" stroke="#000" stroke-width="1.8"/><text x="52.5" y="266.9" text-anchor="end" class="tl">4500</text><text x="52.5" y="300.62" text-anchor="end" class="tl">4000</text><text x="52.5" y="334.34" text-anchor="end" class="tl">3500</text><text x="52.5" y="368.06" text-anchor="end" class="tl">3000</text><text x="52.5" y="401.78" text-anchor="end" class="tl">2500</text><text x="52.5" y="435.5" text-anchor="end" class="tl">2000</text><text x="106.2" y="453.1" text-anchor="middle" class="tl">70</text><text x="190.65" y="453.1" text-anchor="middle" class="tl">80</text><text x="275.1" y="453.1" text-anchor="middle" class="tl">90</text><text x="10.3" y="257.4" class="let">c</text><text transform="translate(12.5 434.4) rotate(-90)" x="0" y="0" class="yt" textLength="95.64" lengthAdjust="spacingAndGlyphs">Fluorescence</text><text transform="translate(12.5 335.32) rotate(-90)" x="0" y="0" class="yt" textLength="63.42" lengthAdjust="spacingAndGlyphs">intensity</text><text x="133.8" y="476.1" class="xt" textLength="84" lengthAdjust="spacingAndGlyphs">Temperature</text><path d="M222.6 466.2Q218 472.65 222.6 479.1" fill="none" stroke="#000" stroke-width="1.8"/><path d="M239.3 466Q244.9 472.45 239.3 478.9" fill="none" stroke="#000" stroke-width="1.4"/><circle cx="226.5" cy="467" r="0.95"/><path d="M235.16 467.31A4.6 4.75 0 1 0 235.16 474.59" fill="none" stroke="#000" stroke-width="1.1"/><path d="M191 295.3H209.6M191 314.4H209.6" stroke="#000" stroke-width="1.8"/><circle cx="200.3" cy="295.3" r="1.4"/><circle cx="200.3" cy="314.4" r="1.8"/><text x="222" y="298.6" class="lg" textLength="97.4" lengthAdjust="spacingAndGlyphs">Zika virus MR766</text><text x="221.2" y="317.2" class="lg" textLength="98.6" lengthAdjust="spacingAndGlyphs">Negative control</text><path d="M63.5 326.8 64.56 326.97 65.61 327.14 66.67 327.3 67.73 327.47 68.78 327.64 69.84 327.81 70.89 327.99 71.95 328.16 73.01 328.33 74.06 328.51 75.12 328.68 76.18 328.86 77.23 329.03 78.29 329.21 79.35 329.39 80.4 329.56 81.46 329.74 82.51 329.92 83.57 330.1 84.63 330.28 85.68 330.47 86.74 330.65 87.8 330.83 88.85 331.02 89.91 331.2 90.97 331.39 92.02 331.57 93.08 331.76 94.13 331.95 95.19 332.13 96.25 332.32 97.3 332.51 98.36 332.7 99.42 332.89 100.47 333.09 101.53 333.28 102.59 333.48 103.64 333.67 104.7 333.87 105.75 334.07 106.81 334.28 107.87 334.48 108.92 334.68 109.98 334.89 111.04 335.1 112.09 335.31 113.15 335.52 114.2 335.73 115.26 335.94 116.32 336.15 117.37 336.36 118.43 336.57 119.49 336.79 120.54 337 121.6 337.21 122.66 337.42 123.71 337.64 124.77 337.85 125.82 338.06 126.88 338.27 127.94 338.48 128.99 338.69 130.05 338.9 131.11 339.11 132.16 339.31 133.22 339.52 134.28 339.72 135.33 339.93 136.39 340.13 137.44 340.33 138.5 340.52 139.56 340.72 140.61 340.91 141.67 341.1 142.73 341.29 143.78 341.48 144.84 341.66 145.9 341.84 146.95 342.02 148.01 342.2 149.06 342.38 150.12 342.56 151.18 342.74 152.23 342.92 153.29 343.1 154.35 343.28 155.4 343.47 156.46 343.65 157.52 343.84 158.57 344.03 159.63 344.23 160.68 344.43 161.74 344.63 162.8 344.82 163.85 345.02 164.91 345.23 165.97 345.44 167.02 345.65 168.08 345.87 169.14 346.1 170.19 346.34 171.25 346.6 172.3 346.87 173.36 347.15 174.42 347.44 175.47 347.75 176.53 348.05 177.59 348.35 178.64 348.65 179.7 348.99 180.76 349.4 181.81 349.92 182.87 350.63 183.92 351.49 184.98 352.47 186.04 353.53 187.09 354.7 188.15 356.08 189.21 357.62 190.26 359.3 191.32 361.22 192.38 363.33 193.43 365.55 194.49 367.8 195.54 370.08 196.6 372.43 197.66 374.88 198.71 377.43 199.77 380.25 200.83 383.26 201.88 386.13 202.94 388.61 204 390.8 205.05 392.86 206.11 394.92 207.16 397.05 208.22 399.13 209.28 400.94 210.33 402.52 211.39 403.96 212.45 405.31 213.5 406.64 214.56 407.89 215.61 408.79 216.67 409.58 217.73 410.27 218.78 410.81 219.84 411.17 220.9 411.37 221.95 411.55 223.01 411.7 224.07 411.83 225.12 411.95 226.18 412.04 227.23 412.13 228.29 412.2 229.35 412.26 230.4 412.32 231.46 412.37 232.52 412.42 233.57 412.46 234.63 412.5 235.69 412.54 236.74 412.57 237.8 412.6 238.85 412.63 239.91 412.66 240.97 412.69 242.02 412.72 243.08 412.74 244.14 412.77 245.19 412.81 246.25 412.84 247.31 412.87 248.36 412.9 249.42 412.94 250.47 412.97 251.53 413 252.59 413.04 253.64 413.07 254.7 413.1 255.76 413.13 256.81 413.17 257.87 413.2 258.93 413.23 259.98 413.26 261.04 413.29 262.09 413.32 263.15 413.34 264.21 413.37 265.26 413.4 266.32 413.42 267.38 413.45 268.43 413.47 269.49 413.49 270.55 413.51 271.6 413.53 272.66 413.55 273.71 413.57 274.77 413.6 275.83 413.62 276.88 413.64 277.94 413.66 279 413.68 280.05 413.7 281.11 413.72 282.17 413.73 283.22 413.75 284.28 413.76 285.33 413.77 286.39 413.78 287.45 413.79 288.5 413.8 289.56 413.8 290.62 413.8 291.67 413.8 292.73 413.8 293.79 413.8 294.84 413.8 295.9 413.8 296.95 413.8 298.01 413.8 299.07 413.8 300.12 413.8 301.18 413.8 302.24 413.8 303.29 413.8 304.35 413.8 305.41 413.8 306.46 413.8 307.52 413.8 308.57 413.8 309.63 413.8 310.69 413.8 311.74 413.8 312.8 413.8 313.86 413.8 314.91 413.8 315.97 413.8 317.02 413.8" fill="none" stroke="#000" stroke-width="2" stroke-linejoin="round"/><g><circle cx="63.68" cy="327.13" r="1.75"/><circle cx="67.9" cy="327.8" r="1.75"/><circle cx="72.12" cy="328.49" r="1.75"/><circle cx="76.34" cy="329.18" r="1.75"/><circle cx="80.56" cy="329.89" r="1.75"/><circle cx="84.79" cy="330.61" r="1.75"/><circle cx="89.01" cy="331.34" r="1.75"/><circle cx="93.23" cy="332.09" r="1.75"/><circle cx="97.46" cy="332.84" r="1.75"/><circle cx="101.68" cy="333.61" r="1.75"/><circle cx="105.9" cy="334.4" r="1.75"/><circle cx="110.12" cy="335.22" r="1.75"/><circle cx="114.34" cy="336.06" r="1.75"/><circle cx="118.57" cy="336.9" r="1.75"/><circle cx="122.79" cy="337.75" r="1.75"/><circle cx="127.01" cy="338.6" r="1.75"/><circle cx="131.24" cy="339.43" r="1.75"/><circle cx="135.46" cy="340.25" r="1.75"/><circle cx="139.68" cy="341.04" r="1.75"/><circle cx="143.9" cy="341.8" r="1.75"/><circle cx="148.12" cy="342.52" r="1.75"/><circle cx="152.35" cy="343.24" r="1.75"/><circle cx="156.57" cy="343.97" r="1.75"/><circle cx="160.79" cy="344.75" r="1.75"/><circle cx="165.02" cy="345.55" r="1.75"/><circle cx="169.24" cy="346.43" r="1.75"/><circle cx="173.46" cy="347.48" r="1.75"/><circle cx="177.68" cy="348.67" r="1.75"/><circle cx="181.91" cy="350.28" r="1.75"/><circle cx="186.13" cy="353.93" r="1.75"/><circle cx="190.35" cy="359.75" r="1.75"/><circle cx="194.57" cy="368.28" r="1.75"/><circle cx="198.8" cy="377.94" r="1.75"/><circle cx="203.02" cy="389.08" r="1.75"/><circle cx="207.24" cy="397.5" r="1.75"/><circle cx="211.46" cy="404.35" r="1.75"/><circle cx="215.69" cy="409.14" r="1.75"/><circle cx="219.91" cy="411.48" r="1.75"/><circle cx="224.13" cy="412.14" r="1.75"/><circle cx="228.35" cy="412.5" r="1.75"/><circle cx="232.58" cy="412.72" r="1.75"/><circle cx="236.8" cy="412.87" r="1.75"/><circle cx="241.02" cy="412.99" r="1.75"/><circle cx="245.24" cy="413.11" r="1.75"/><circle cx="249.47" cy="413.24" r="1.75"/><circle cx="253.69" cy="413.37" r="1.75"/><circle cx="257.91" cy="413.5" r="1.75"/><circle cx="262.13" cy="413.62" r="1.75"/><circle cx="266.36" cy="413.72" r="1.75"/><circle cx="270.58" cy="413.81" r="1.75"/><circle cx="274.8" cy="413.9" r="1.75"/><circle cx="279.02" cy="413.98" r="1.75"/><circle cx="283.25" cy="414.05" r="1.75"/><circle cx="287.47" cy="414.09" r="1.75"/><circle cx="291.69" cy="414.1" r="1.75"/><circle cx="295.91" cy="414.1" r="1.75"/><circle cx="300.13" cy="414.1" r="1.75"/><circle cx="304.36" cy="414.1" r="1.75"/><circle cx="308.58" cy="414.1" r="1.75"/><circle cx="312.8" cy="414.1" r="1.75"/><circle cx="317.02" cy="414.1" r="1.75"/></g><path d="M63.5 383.4 64.56 383.52 65.61 383.65 66.67 383.77 67.73 383.89 68.78 384.02 69.84 384.14 70.89 384.26 71.95 384.39 73.01 384.51 74.06 384.63 75.12 384.76 76.18 384.88 77.23 385.01 78.29 385.13 79.35 385.25 80.4 385.38 81.46 385.5 82.51 385.63 83.57 385.75 84.63 385.88 85.68 386 86.74 386.13 87.8 386.25 88.85 386.38 89.91 386.5 90.97 386.63 92.02 386.75 93.08 386.88 94.13 387 95.19 387.13 96.25 387.25 97.3 387.38 98.36 387.5 99.42 387.63 100.47 387.76 101.53 387.88 102.59 388.01 103.64 388.14 104.7 388.26 105.75 388.39 106.81 388.52 107.87 388.65 108.92 388.77 109.98 388.9 111.04 389.03 112.09 389.16 113.15 389.28 114.2 389.41 115.26 389.54 116.32 389.66 117.37 389.79 118.43 389.91 119.49 390.04 120.54 390.16 121.6 390.29 122.66 390.42 123.71 390.55 124.77 390.68 125.82 390.81 126.88 390.94 127.94 391.08 128.99 391.21 130.05 391.34 131.11 391.48 132.16 391.61 133.22 391.75 134.28 391.88 135.33 392.02 136.39 392.15 137.44 392.29 138.5 392.42 139.56 392.55 140.61 392.68 141.67 392.81 142.73 392.94 143.78 393.07 144.84 393.19 145.9 393.32 146.95 393.44 148.01 393.56 149.06 393.67 150.12 393.79 151.18 393.9 152.23 394.01 153.29 394.11 154.35 394.21 155.4 394.31 156.46 394.41 157.52 394.5 158.57 394.59 159.63 394.67 160.68 394.75 161.74 394.83 162.8 394.91 163.85 394.99 164.91 395.06 165.97 395.14 167.02 395.21 168.08 395.28 169.14 395.35 170.19 395.41 171.25 395.48 172.3 395.54 173.36 395.6 174.42 395.65 175.47 395.71 176.53 395.76 177.59 395.81 178.64 395.85 179.7 395.89 180.76 395.93 181.81 395.96 182.87 396 183.92 396.04 184.98 396.08 186.04 396.11 187.09 396.15 188.15 396.18 189.21 396.21 190.26 396.25 191.32 396.27 192.38 396.3 193.43 396.32 194.49 396.35 195.54 396.36 196.6 396.38 197.66 396.39 198.71 396.4 199.77 396.4 200.83 396.4 201.88 396.4 202.94 396.4 204 396.39 205.05 396.39 206.11 396.38 207.16 396.37 208.22 396.36 209.28 396.36 210.33 396.35 211.39 396.34 212.45 396.33 213.5 396.32 214.56 396.3 215.61 396.29 216.67 396.28 217.73 396.25 218.78 396.23 219.84 396.19 220.9 396.16 221.95 396.12 223.01 396.08 224.07 396.03 225.12 395.98 226.18 395.93 227.23 395.87 228.29 395.81 229.35 395.75 230.4 395.69 231.46 395.63 232.52 395.56 233.57 395.5 234.63 395.43 235.69 395.36 236.74 395.3 237.8 395.23 238.85 395.16 239.91 395.1 240.97 395.03 242.02 394.97 243.08 394.91 244.14 394.85 245.19 394.79 246.25 394.73 247.31 394.67 248.36 394.61 249.42 394.55 250.47 394.49 251.53 394.43 252.59 394.37 253.64 394.31 254.7 394.25 255.76 394.19 256.81 394.12 257.87 394.06 258.93 394 259.98 393.93 261.04 393.87 262.09 393.8 263.15 393.74 264.21 393.67 265.26 393.6 266.32 393.54 267.38 393.47 268.43 393.4 269.49 393.33 270.55 393.26 271.6 393.19 272.66 393.12 273.71 393.05 274.77 392.98 275.83 392.9 276.88 392.82 277.94 392.75 279 392.67 280.05 392.59 281.11 392.52 282.17 392.44 283.22 392.36 284.28 392.29 285.33 392.21 286.39 392.14 287.45 392.07 288.5 392 289.56 391.93 290.62 391.86 291.67 391.8 292.73 391.74 293.79 391.68 294.84 391.62 295.9 391.56 296.95 391.5 298.01 391.44 299.07 391.37 300.12 391.29 301.18 391.21 302.24 391.12 303.29 391.03 304.35 390.94 305.41 390.84 306.46 390.74 307.52 390.63 308.57 390.52 309.63 390.4 310.69 390.28 311.74 390.16 312.8 390.03 313.86 389.9 314.91 389.77 315.97 389.63 317.02 389.49" fill="none" stroke="#000" stroke-width="2" stroke-linejoin="round"/><g><circle cx="63.68" cy="383.42" r="2.0"/><circle cx="67.9" cy="383.91" r="2.0"/><circle cx="72.12" cy="384.41" r="2.0"/><circle cx="76.34" cy="384.9" r="2.0"/><circle cx="80.56" cy="385.4" r="2.0"/><circle cx="84.79" cy="385.9" r="2.0"/><circle cx="89.01" cy="386.4" r="2.0"/><circle cx="93.23" cy="386.9" r="2.0"/><circle cx="97.46" cy="387.4" r="2.0"/><circle cx="101.68" cy="387.9" r="2.0"/><circle cx="105.9" cy="388.41" r="2.0"/><circle cx="110.12" cy="388.92" r="2.0"/><circle cx="114.34" cy="389.43" r="2.0"/><circle cx="118.57" cy="389.93" r="2.0"/><circle cx="122.79" cy="390.43" r="2.0"/><circle cx="127.01" cy="390.96" r="2.0"/><circle cx="131.24" cy="391.5" r="2.0"/><circle cx="135.46" cy="392.04" r="2.0"/><circle cx="139.68" cy="392.57" r="2.0"/><circle cx="143.9" cy="393.08" r="2.0"/><circle cx="148.12" cy="393.57" r="2.0"/><circle cx="152.35" cy="394.02" r="2.0"/><circle cx="156.57" cy="394.42" r="2.0"/><circle cx="160.79" cy="394.76" r="2.0"/><circle cx="165.02" cy="395.07" r="2.0"/><circle cx="169.24" cy="395.35" r="2.0"/><circle cx="173.46" cy="395.6" r="2.0"/><circle cx="177.68" cy="395.81" r="2.0"/><circle cx="181.91" cy="395.97" r="2.0"/><circle cx="186.13" cy="396.12" r="2.0"/><circle cx="190.35" cy="396.25" r="2.0"/><circle cx="194.57" cy="396.35" r="2.0"/><circle cx="198.8" cy="396.4" r="2.0"/><circle cx="203.02" cy="396.39" r="2.0"/><circle cx="207.24" cy="396.37" r="2.0"/><circle cx="211.46" cy="396.34" r="2.0"/><circle cx="215.69" cy="396.29" r="2.0"/><circle cx="219.91" cy="396.19" r="2.0"/><circle cx="224.13" cy="396.03" r="2.0"/><circle cx="228.35" cy="395.81" r="2.0"/><circle cx="232.58" cy="395.56" r="2.0"/><circle cx="236.8" cy="395.29" r="2.0"/><circle cx="241.02" cy="395.03" r="2.0"/><circle cx="245.24" cy="394.79" r="2.0"/><circle cx="249.47" cy="394.55" r="2.0"/><circle cx="253.69" cy="394.31" r="2.0"/><circle cx="257.91" cy="394.06" r="2.0"/><circle cx="262.13" cy="393.8" r="2.0"/><circle cx="266.36" cy="393.53" r="2.0"/><circle cx="270.58" cy="393.26" r="2.0"/><circle cx="274.8" cy="392.97" r="2.0"/><circle cx="279.02" cy="392.67" r="2.0"/><circle cx="283.25" cy="392.36" r="2.0"/><circle cx="287.47" cy="392.07" r="2.0"/><circle cx="291.69" cy="391.8" r="2.0"/><circle cx="295.91" cy="391.56" r="2.0"/><circle cx="300.13" cy="391.29" r="2.0"/><circle cx="304.36" cy="390.94" r="2.0"/><circle cx="308.58" cy="390.52" r="2.0"/><circle cx="312.8" cy="390.03" r="2.0"/><circle cx="317.02" cy="389.49" r="2.0"/></g></g>
<g><path d="M422.6 263.1V431.8H675.85" fill="none" stroke="#000" stroke-width="2"/><path d="M417 263.1H422.6M417 296.84H422.6M417 330.58H422.6M417 364.32H422.6M417 398.06H422.6M417 431.8H422.6" stroke="#000" stroke-width="1.6"/><path d="M464.6 431.8V437.3M549.1 431.8V437.3M633.6 431.8V437.3M506.85 431.8V435M591.35 431.8V435M675.85 431.8V435" stroke="#000" stroke-width="1.8"/><text x="411.85" y="267.2" text-anchor="end" class="tl">4500</text><text x="411.85" y="300.94" text-anchor="end" class="tl">4000</text><text x="411.85" y="334.68" text-anchor="end" class="tl">3500</text><text x="411.85" y="368.42" text-anchor="end" class="tl">3000</text><text x="411.85" y="402.16" text-anchor="end" class="tl">2500</text><text x="411.85" y="435.9" text-anchor="end" class="tl">2000</text><text x="464.9" y="453.1" text-anchor="middle" class="tl">70</text><text x="549.4" y="453.1" text-anchor="middle" class="tl">80</text><text x="633.9" y="453.1" text-anchor="middle" class="tl">90</text><text x="364.6" y="257.2" class="let">d</text><text transform="translate(365.6 437.7) rotate(-90)" x="0" y="0" class="yt" textLength="95.87" lengthAdjust="spacingAndGlyphs">Fluorescence</text><text transform="translate(365.6 338.37) rotate(-90)" x="0" y="0" class="yt" textLength="63.57" lengthAdjust="spacingAndGlyphs">intensity</text><text x="492.7" y="476.3" class="xt" textLength="84" lengthAdjust="spacingAndGlyphs">Temperature</text><path d="M581.5 466.4Q576.9 472.85 581.5 479.3" fill="none" stroke="#000" stroke-width="1.8"/><path d="M598.2 466.2Q603.8 472.65 598.2 479.1" fill="none" stroke="#000" stroke-width="1.4"/><circle cx="585.4" cy="467.2" r="0.95"/><path d="M594.06 467.51A4.6 4.75 0 1 0 594.06 474.79" fill="none" stroke="#000" stroke-width="1.1"/><path d="M549.5 294.8H568.2M549.5 313.9H568.2" stroke="#000" stroke-width="1.8"/><circle cx="558.85" cy="294.8" r="1.4"/><circle cx="558.85" cy="313.9" r="1.8"/><text x="587" y="298.6" class="lg" textLength="97.2" lengthAdjust="spacingAndGlyphs">Zika virus MR766</text><text x="583.9" y="318.1" class="lg" textLength="100.7" lengthAdjust="spacingAndGlyphs">Negative control</text><path d="M422.6 352.15 423.66 352.26 424.71 352.37 425.77 352.47 426.82 352.58 427.88 352.69 428.93 352.8 429.99 352.9 431.04 353.01 432.1 353.12 433.15 353.22 434.21 353.33 435.26 353.44 436.32 353.55 437.37 353.66 438.43 353.78 439.48 353.89 440.54 354 441.59 354.12 442.65 354.24 443.7 354.36 444.76 354.48 445.81 354.6 446.87 354.72 447.93 354.85 448.98 354.98 450.04 355.11 451.09 355.25 452.15 355.38 453.2 355.52 454.26 355.67 455.31 355.81 456.37 355.96 457.42 356.11 458.48 356.27 459.53 356.43 460.59 356.59 461.64 356.76 462.7 356.93 463.75 357.1 464.81 357.28 465.86 357.46 466.92 357.65 467.97 357.84 469.03 358.04 470.08 358.24 471.14 358.44 472.19 358.66 473.25 358.87 474.31 359.09 475.36 359.32 476.42 359.55 477.47 359.79 478.53 360.03 479.58 360.28 480.64 360.53 481.69 360.79 482.75 361.06 483.8 361.33 484.86 361.61 485.91 361.9 486.97 362.19 488.02 362.49 489.08 362.8 490.13 363.1 491.19 363.42 492.24 363.74 493.3 364.06 494.35 364.38 495.41 364.71 496.46 365.04 497.52 365.38 498.58 365.71 499.63 366.05 500.69 366.39 501.74 366.73 502.8 367.07 503.85 367.41 504.91 367.75 505.96 368.09 507.02 368.43 508.07 368.76 509.13 369.1 510.18 369.43 511.24 369.76 512.29 370.09 513.35 370.41 514.4 370.73 515.46 371.05 516.51 371.36 517.57 371.67 518.62 371.97 519.68 372.27 520.73 372.56 521.79 372.84 522.84 373.12 523.9 373.39 524.96 373.65 526.01 373.9 527.07 374.15 528.12 374.39 529.18 374.62 530.23 374.84 531.29 375.04 532.34 375.24 533.4 375.43 534.45 375.61 535.51 375.77 536.56 375.93 537.62 376.07 538.67 376.21 539.73 376.33 540.78 376.44 541.84 376.54 542.89 376.63 543.95 376.71 545 376.79 546.06 376.85 547.11 376.91 548.17 376.96 549.23 377 550.28 377.03 551.34 377.05 552.39 377.07 553.45 377.08 554.5 377.08 555.56 377.08 556.61 377.07 557.67 377.05 558.72 377.03 559.78 377.01 560.83 376.98 561.89 376.94 562.94 376.9 564 376.86 565.05 376.81 566.11 376.76 567.16 376.7 568.22 376.65 569.27 376.58 570.33 376.52 571.38 376.46 572.44 376.39 573.49 376.32 574.55 376.25 575.61 376.18 576.66 376.11 577.72 376.04 578.77 375.96 579.83 375.89 580.88 375.81 581.94 375.74 582.99 375.66 584.05 375.58 585.1 375.5 586.16 375.43 587.21 375.35 588.27 375.27 589.32 375.19 590.38 375.11 591.43 375.02 592.49 374.94 593.54 374.86 594.6 374.78 595.65 374.7 596.71 374.61 597.76 374.53 598.82 374.45 599.88 374.36 600.93 374.28 601.99 374.2 603.04 374.11 604.1 374.03 605.15 373.94 606.21 373.86 607.26 373.78 608.32 373.69 609.37 373.61 610.43 373.53 611.48 373.44 612.54 373.36 613.59 373.28 614.65 373.19 615.7 373.11 616.76 373.03 617.81 372.95 618.87 372.87 619.92 372.79 620.98 372.7 622.03 372.62 623.09 372.54 624.14 372.46 625.2 372.38 626.26 372.3 627.31 372.22 628.37 372.14 629.42 372.05 630.48 371.97 631.53 371.89 632.59 371.8 633.64 371.72 634.7 371.64 635.75 371.55 636.81 371.46 637.86 371.38 638.92 371.29 639.97 371.2 641.03 371.11 642.08 371.02 643.14 370.93 644.19 370.84 645.25 370.75 646.3 370.65 647.36 370.56 648.41 370.46 649.47 370.36 650.52 370.26 651.58 370.16 652.64 370.06 653.69 369.95 654.75 369.85 655.8 369.74 656.86 369.63 657.91 369.52 658.97 369.41 660.02 369.3 661.08 369.18 662.13 369.06 663.19 368.94 664.24 368.82 665.3 368.7 666.35 368.57 667.41 368.44 668.46 368.31 669.52 368.18 670.57 368.04 671.63 367.91 672.68 367.77 673.74 367.62 674.79 367.48 675.85 367.33" fill="none" stroke="#000" stroke-width="2" stroke-linejoin="round"/><g><circle cx="422.35" cy="352.15" r="2.0"/><circle cx="426.58" cy="352.56" r="2.0"/><circle cx="430.8" cy="352.98" r="2.0"/><circle cx="435.03" cy="353.42" r="2.0"/><circle cx="439.25" cy="353.86" r="2.0"/><circle cx="443.48" cy="354.33" r="2.0"/><circle cx="447.7" cy="354.82" r="2.0"/><circle cx="451.93" cy="355.36" r="2.0"/><circle cx="456.15" cy="355.93" r="2.0"/><circle cx="460.38" cy="356.56" r="2.0"/><circle cx="464.6" cy="357.25" r="2.0"/><circle cx="468.83" cy="358" r="2.0"/><circle cx="473.05" cy="358.83" r="2.0"/><circle cx="477.28" cy="359.74" r="2.0"/><circle cx="481.5" cy="360.75" r="2.0"/><circle cx="485.73" cy="361.85" r="2.0"/><circle cx="489.95" cy="363.05" r="2.0"/><circle cx="494.18" cy="364.33" r="2.0"/><circle cx="498.4" cy="365.66" r="2.0"/><circle cx="502.62" cy="367.01" r="2.0"/><circle cx="506.85" cy="368.37" r="2.0"/><circle cx="511.08" cy="369.71" r="2.0"/><circle cx="515.3" cy="371" r="2.0"/><circle cx="519.52" cy="372.22" r="2.0"/><circle cx="523.75" cy="373.35" r="2.0"/><circle cx="527.98" cy="374.36" r="2.0"/><circle cx="532.2" cy="375.22" r="2.0"/><circle cx="536.42" cy="375.91" r="2.0"/><circle cx="540.65" cy="376.43" r="2.0"/><circle cx="544.88" cy="376.78" r="2.0"/><circle cx="549.1" cy="376.99" r="2.0"/><circle cx="553.33" cy="377.08" r="2.0"/><circle cx="557.55" cy="377.06" r="2.0"/><circle cx="561.77" cy="376.95" r="2.0"/><circle cx="566" cy="376.76" r="2.0"/><circle cx="570.23" cy="376.53" r="2.0"/><circle cx="574.45" cy="376.26" r="2.0"/><circle cx="578.67" cy="375.97" r="2.0"/><circle cx="582.9" cy="375.67" r="2.0"/><circle cx="587.12" cy="375.35" r="2.0"/><circle cx="591.35" cy="375.03" r="2.0"/><circle cx="595.58" cy="374.7" r="2.0"/><circle cx="599.8" cy="374.37" r="2.0"/><circle cx="604.02" cy="374.03" r="2.0"/><circle cx="608.25" cy="373.7" r="2.0"/><circle cx="612.48" cy="373.36" r="2.0"/><circle cx="616.7" cy="373.03" r="2.0"/><circle cx="620.92" cy="372.71" r="2.0"/><circle cx="625.15" cy="372.38" r="2.0"/><circle cx="629.38" cy="372.06" r="2.0"/><circle cx="633.6" cy="371.72" r="2.0"/><circle cx="637.83" cy="371.38" r="2.0"/><circle cx="642.05" cy="371.03" r="2.0"/><circle cx="646.27" cy="370.65" r="2.0"/><circle cx="650.5" cy="370.26" r="2.0"/><circle cx="654.73" cy="369.85" r="2.0"/><circle cx="658.95" cy="369.41" r="2.0"/><circle cx="663.17" cy="368.94" r="2.0"/><circle cx="667.4" cy="368.44" r="2.0"/><circle cx="671.62" cy="367.91" r="2.0"/><circle cx="675.85" cy="367.33" r="2.0"/></g><path d="M422.6 370.86 423.66 371.02 424.71 371.17 425.77 371.32 426.82 371.48 427.88 371.63 428.93 371.77 429.99 371.92 431.04 372.07 432.1 372.22 433.15 372.36 434.21 372.51 435.26 372.66 436.32 372.8 437.37 372.95 438.43 373.1 439.48 373.25 440.54 373.4 441.59 373.55 442.65 373.7 443.7 373.85 444.76 374.01 445.81 374.16 446.87 374.32 447.93 374.49 448.98 374.65 450.04 374.82 451.09 374.99 452.15 375.16 453.2 375.34 454.26 375.52 455.31 375.7 456.37 375.89 457.42 376.08 458.48 376.28 459.53 376.48 460.59 376.68 461.64 376.89 462.7 377.11 463.75 377.33 464.81 377.55 465.86 377.79 466.92 378.02 467.97 378.27 469.03 378.52 470.08 378.77 471.14 379.04 472.19 379.31 473.25 379.59 474.31 379.87 475.36 380.16 476.42 380.46 477.47 380.77 478.53 381.08 479.58 381.41 480.64 381.74 481.69 382.08 482.75 382.43 483.8 382.79 484.86 383.15 485.91 383.53 486.97 383.92 488.02 384.31 489.08 384.71 490.13 385.12 491.19 385.54 492.24 385.96 493.3 386.38 494.35 386.81 495.41 387.25 496.46 387.69 497.52 388.13 498.58 388.57 499.63 389.01 500.69 389.46 501.74 389.9 502.8 390.35 503.85 390.79 504.91 391.23 505.96 391.67 507.02 392.11 508.07 392.54 509.13 392.97 510.18 393.4 511.24 393.81 512.29 394.23 513.35 394.63 514.4 395.03 515.46 395.42 516.51 395.81 517.57 396.18 518.62 396.55 519.68 396.9 520.73 397.25 521.79 397.59 522.84 397.91 523.9 398.23 524.96 398.54 526.01 398.84 527.07 399.12 528.12 399.4 529.18 399.66 530.23 399.92 531.29 400.16 532.34 400.39 533.4 400.61 534.45 400.81 535.51 401 536.56 401.18 537.62 401.35 538.67 401.51 539.73 401.65 540.78 401.79 541.84 401.91 542.89 402.02 543.95 402.13 545 402.22 546.06 402.3 547.11 402.38 548.17 402.44 549.23 402.5 550.28 402.55 551.34 402.59 552.39 402.62 553.45 402.65 554.5 402.67 555.56 402.68 556.61 402.69 557.67 402.69 558.72 402.68 559.78 402.67 560.83 402.66 561.89 402.64 562.94 402.62 564 402.59 565.05 402.56 566.11 402.53 567.16 402.49 568.22 402.45 569.27 402.41 570.33 402.37 571.38 402.33 572.44 402.28 573.49 402.24 574.55 402.19 575.61 402.15 576.66 402.1 577.72 402.05 578.77 402.01 579.83 401.96 580.88 401.92 581.94 401.87 582.99 401.83 584.05 401.78 585.1 401.74 586.16 401.69 587.21 401.65 588.27 401.61 589.32 401.56 590.38 401.52 591.43 401.47 592.49 401.43 593.54 401.39 594.6 401.35 595.65 401.3 596.71 401.26 597.76 401.22 598.82 401.18 599.88 401.14 600.93 401.1 601.99 401.05 603.04 401.01 604.1 400.97 605.15 400.93 606.21 400.9 607.26 400.86 608.32 400.82 609.37 400.78 610.43 400.74 611.48 400.71 612.54 400.67 613.59 400.63 614.65 400.6 615.7 400.56 616.76 400.53 617.81 400.49 618.87 400.46 619.92 400.42 620.98 400.39 622.03 400.36 623.09 400.33 624.14 400.29 625.2 400.26 626.26 400.23 627.31 400.2 628.37 400.16 629.42 400.13 630.48 400.1 631.53 400.07 632.59 400.04 633.64 400 634.7 399.97 635.75 399.94 636.81 399.91 637.86 399.88 638.92 399.84 639.97 399.81 641.03 399.78 642.08 399.74 643.14 399.71 644.19 399.68 645.25 399.64 646.3 399.61 647.36 399.57 648.41 399.54 649.47 399.5 650.52 399.46 651.58 399.43 652.64 399.39 653.69 399.35 654.75 399.31 655.8 399.27 656.86 399.23 657.91 399.19 658.97 399.15 660.02 399.1 661.08 399.06 662.13 399.01 663.19 398.97 664.24 398.92 665.3 398.87 666.35 398.82 667.41 398.78 668.46 398.72 669.52 398.67 670.57 398.62 671.63 398.57 672.68 398.51 673.74 398.45 674.79 398.4 675.85 398.34" fill="none" stroke="#000" stroke-width="2" stroke-linejoin="round"/><g><circle cx="422.35" cy="371.16" r="1.75"/><circle cx="426.58" cy="371.74" r="1.75"/><circle cx="430.8" cy="372.34" r="1.75"/><circle cx="435.03" cy="372.92" r="1.75"/><circle cx="439.25" cy="373.51" r="1.75"/><circle cx="443.48" cy="374.12" r="1.75"/><circle cx="447.7" cy="374.75" r="1.75"/><circle cx="451.93" cy="375.42" r="1.75"/><circle cx="456.15" cy="376.15" r="1.75"/><circle cx="460.38" cy="376.94" r="1.75"/><circle cx="464.6" cy="377.81" r="1.75"/><circle cx="468.83" cy="378.77" r="1.75"/><circle cx="473.05" cy="379.83" r="1.75"/><circle cx="477.28" cy="381.01" r="1.75"/><circle cx="481.5" cy="382.32" r="1.75"/><circle cx="485.73" cy="383.76" r="1.75"/><circle cx="489.95" cy="385.35" r="1.75"/><circle cx="494.18" cy="387.04" r="1.75"/><circle cx="498.4" cy="388.8" r="1.75"/><circle cx="502.62" cy="390.58" r="1.75"/><circle cx="506.85" cy="392.34" r="1.75"/><circle cx="511.08" cy="394.05" r="1.75"/><circle cx="515.3" cy="395.66" r="1.75"/><circle cx="519.52" cy="397.15" r="1.75"/><circle cx="523.75" cy="398.49" r="1.75"/><circle cx="527.98" cy="399.66" r="1.75"/><circle cx="532.2" cy="400.66" r="1.75"/><circle cx="536.42" cy="401.46" r="1.75"/><circle cx="540.65" cy="402.07" r="1.75"/><circle cx="544.88" cy="402.51" r="1.75"/><circle cx="549.1" cy="402.79" r="1.75"/><circle cx="553.33" cy="402.94" r="1.75"/><circle cx="557.55" cy="402.99" r="1.75"/><circle cx="561.77" cy="402.94" r="1.75"/><circle cx="566" cy="402.83" r="1.75"/><circle cx="570.23" cy="402.67" r="1.75"/><circle cx="574.45" cy="402.5" r="1.75"/><circle cx="578.67" cy="402.31" r="1.75"/><circle cx="582.9" cy="402.13" r="1.75"/><circle cx="587.12" cy="401.95" r="1.75"/><circle cx="591.35" cy="401.78" r="1.75"/><circle cx="595.58" cy="401.61" r="1.75"/><circle cx="599.8" cy="401.44" r="1.75"/><circle cx="604.02" cy="401.28" r="1.75"/><circle cx="608.25" cy="401.12" r="1.75"/><circle cx="612.48" cy="400.97" r="1.75"/><circle cx="616.7" cy="400.83" r="1.75"/><circle cx="620.92" cy="400.69" r="1.75"/><circle cx="625.15" cy="400.56" r="1.75"/><circle cx="629.38" cy="400.43" r="1.75"/><circle cx="633.6" cy="400.31" r="1.75"/><circle cx="637.83" cy="400.18" r="1.75"/><circle cx="642.05" cy="400.05" r="1.75"/><circle cx="646.27" cy="399.91" r="1.75"/><circle cx="650.5" cy="399.76" r="1.75"/><circle cx="654.73" cy="399.61" r="1.75"/><circle cx="658.95" cy="399.45" r="1.75"/><circle cx="663.17" cy="399.27" r="1.75"/><circle cx="667.4" cy="399.08" r="1.75"/><circle cx="671.62" cy="398.87" r="1.75"/><circle cx="675.85" cy="398.64" r="1.75"/></g></g>
</svg></body></html>
